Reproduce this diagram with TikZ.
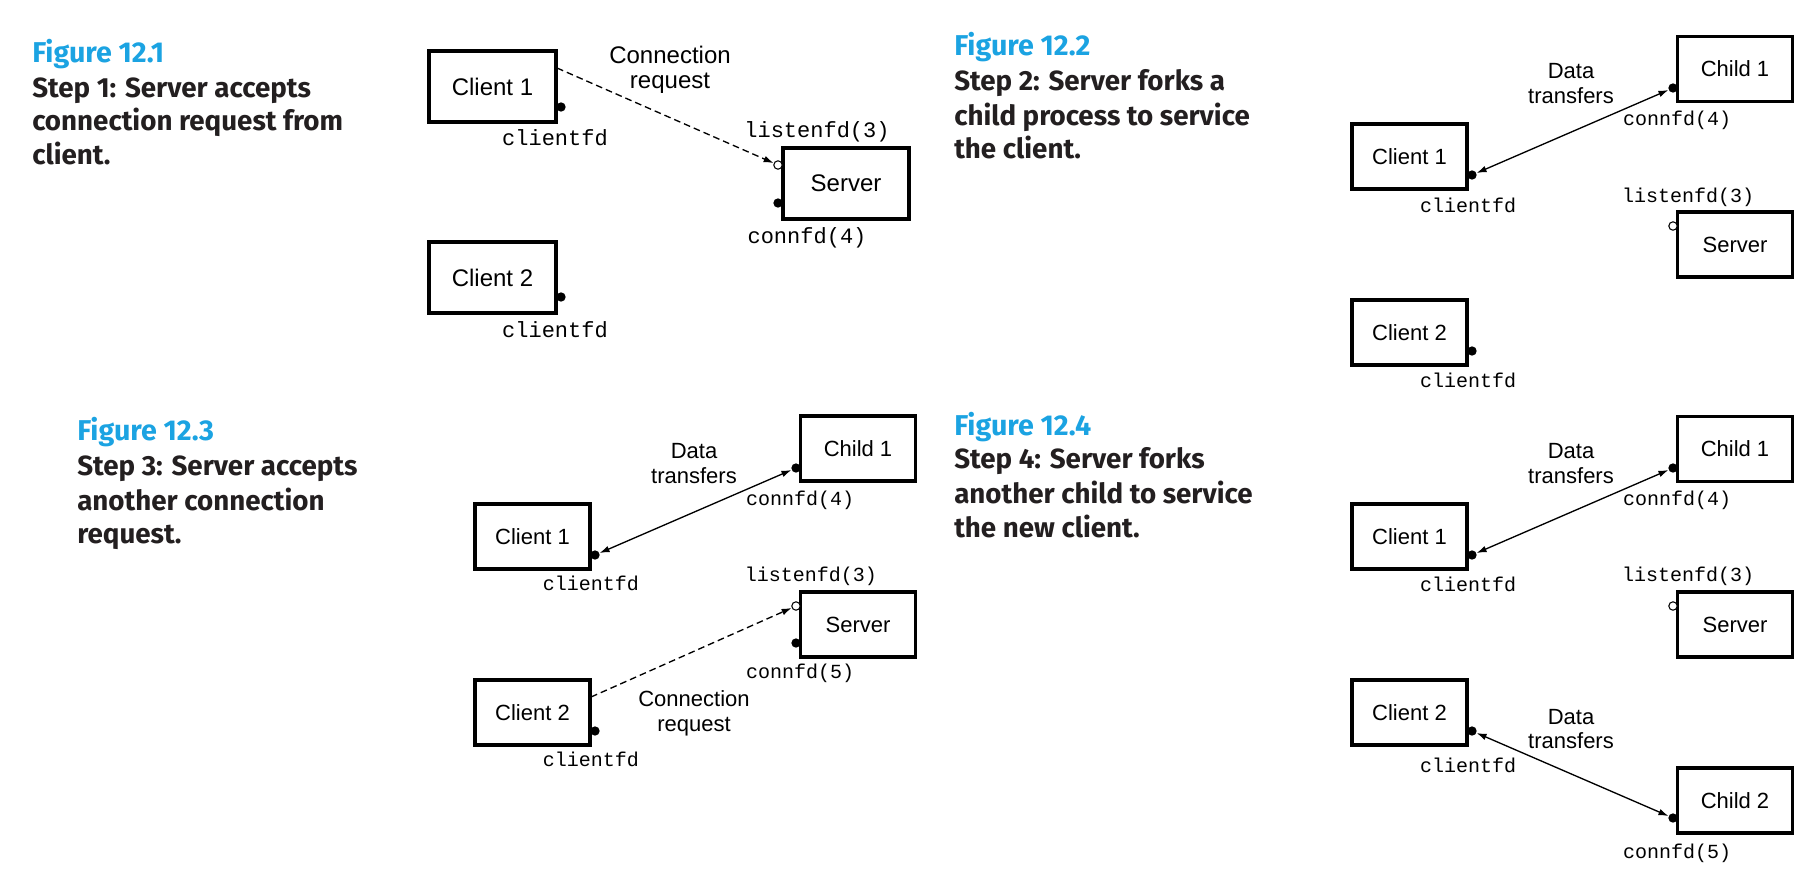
\documentclass[tikz,border=0pt]{standalone}
\usepackage{fontspec}
\setmainfont{Liberation Sans}
\setmonofont{Liberation Mono}
\newfontfamily\titlefont{Fira Sans}
\usetikzlibrary{arrows.meta,calc}
\definecolor{figblue}{RGB}{27,163,226}
\definecolor{ink}{RGB}{35,31,32}
\tikzset{
 box/.style={draw, line width=2.4pt, inner sep=0pt, font=\fontsize{16.5}{18}\selectfont},
 bigbox/.style={box, minimum width=127*0.75pt, minimum height=71*0.75pt, font=\fontsize{18}{20}\selectfont},
 smallbox/.style={box, minimum width=115*0.75pt, minimum height=65*0.75pt},
 fd/.style={circle, fill=black, inner sep=0pt, minimum size=7pt},
 lfd/.style={circle, draw, fill=white, line width=0.8pt, inner sep=0pt, minimum size=6.3pt},
 fdlabel/.style={font=\ttfamily\fontsize{15}{16}\selectfont, anchor=base, inner sep=0pt},
 bigfdlabel/.style={fdlabel, font=\ttfamily\fontsize{16.5}{18}\selectfont},
 lbl/.style={font=\fontsize{16.5}{18}\selectfont, anchor=base, inner sep=0pt},
 biglbl/.style={lbl, font=\fontsize{18}{20}\selectfont},
 figlbl/.style={font=\titlefont\bfseries\fontsize{21.5}{24}\selectfont, text=figblue, anchor=base west, inner sep=0pt},
 steplbl/.style={figlbl, font=\titlefont\bfseries\fontsize{20.8}{24}\selectfont, text=ink},
 link/.style={line width=1pt, {Latex[length=7.5pt,width=5pt]}-{Latex[length=7.5pt,width=5pt]}},
 request/.style={line width=1pt, dash pattern=on 5pt off 3pt, -{Latex[length=7.5pt,width=5pt]}},
}
\begin{document}
\begin{tikzpicture}[x=0.75pt,y=-0.75pt]
\useasboundingbox[fill=white] (0,0) rectangle (1820,882);

% ---------------- Figure 12.1 ----------------
\node[figlbl] (f1) at (32,62) {Figure 12.1};
\node[steplbl] (f1a) at (32,97) {Step 1: Server accepts};
\node[steplbl] (f1b) at (32,130) {connection request from};
\node[steplbl] (f1c) at (32,164) {client.};

\node[bigbox] (c1a) at (492.5,86.5) {Client 1};
\node[bigbox] (c2a) at (492.5,277.5) {Client 2};
\node[bigbox, minimum width=126*0.75pt] (sa) at (846,183.5) {Server};
\node[fd] (c1afd) at (561,107) {};
\node[fd] (c2afd) at (561,297) {};
\node[lfd] (salfd) at (778,165) {};
\node[fd] (sacfd) at (778,203) {};
\node[bigfdlabel] (c1afdl) at (555,145) {clientfd};
\node[bigfdlabel] (c2afdl) at (555,337) {clientfd};
\node[bigfdlabel] (salab) at (817,137) {listenfd(3)};
\node[bigfdlabel] (sacab) at (807,243) {connfd(4)};
\node[biglbl] (reqa1) at (670,63) {Connection};
\node[biglbl] (reqa2) at (670,88) {request};
\coordinate (c1areq) at (557,68);
\draw[request] (c1areq) -- (salfd);

% ---------------- Figure 12.2 ----------------
\node[figlbl] (f2) at (954,55) {Figure 12.2};
\node[steplbl] (f2a) at (954,90) {Step 2: Server forks a};
\node[steplbl] (f2b) at (954,125) {child process to service};
\node[steplbl] (f2c) at (954,158) {the client.};

\node[smallbox] (ch1b) at (1735,69) {Child 1};
\node[smallbox] (c1b) at (1409.5,156.5) {Client 1};
\node[smallbox] (sb) at (1735,244.5) {Server};
\node[smallbox] (c2b) at (1409.5,332.5) {Client 2};
\node[fd] (ch1bfd) at (1673,88) {};
\node[fd] (c1bfd) at (1472,175) {};
\node[lfd] (sblfd) at (1673,226) {};
\node[fd] (c2bfd) at (1472,351) {};
\node[lbl] (db1) at (1571,78) {Data};
\node[lbl] (db2) at (1571,103) {transfers};
\node[fdlabel] (ch1bl) at (1677,125) {connfd(4)};
\node[fdlabel] (c1bl) at (1468,212) {clientfd};
\node[fdlabel] (sbl) at (1688,202) {listenfd(3)};
\node[fdlabel] (c2bl) at (1468,387) {clientfd};
\draw[link] (c1bfd) -- (ch1bfd);

% ---------------- Figure 12.3 ----------------
\node[figlbl] (f3) at (77,440) {Figure 12.3};
\node[steplbl] (f3a) at (77,475) {Step 3: Server accepts};
\node[steplbl] (f3b) at (77,510) {another connection};
\node[steplbl] (f3c) at (77,543) {request.};

\node[smallbox] (ch1c) at (858,448.5) {Child 1};
\node[smallbox] (c1c) at (532.5,536.5) {Client 1};
\node[smallbox] (sc) at (858,624.5) {Server};
\node[smallbox] (c2c) at (532.5,712.5) {Client 2};
\node[fd] (ch1cfd) at (796,468) {};
\node[fd] (c1cfd) at (595,555) {};
\node[lfd] (sclfd) at (796,606) {};
\node[fd] (sccfd) at (796,643) {};
\node[fd] (c2cfd) at (595,731) {};
\node[lbl] (dc1) at (694,458) {Data};
\node[lbl] (dc2) at (694,483) {transfers};
\node[fdlabel] (ch1cl) at (800,505) {connfd(4)};
\node[fdlabel] (c1cl) at (591,590) {clientfd};
\node[fdlabel] (scl) at (811,581) {listenfd(3)};
\node[fdlabel] (sccl) at (800,678) {connfd(5)};
\node[lbl] (rc1) at (694,706) {Connection};
\node[lbl] (rc2) at (694,731) {request};
\node[fdlabel] (c2cl) at (591,766) {clientfd};
\coordinate (c2creq) at (591,697);
\draw[link] (c1cfd) -- (ch1cfd);
\draw[request] (c2creq) -- (sclfd);

% ---------------- Figure 12.4 ----------------
\node[figlbl] (f4) at (954,435) {Figure 12.4};
\node[steplbl] (f4a) at (954,468) {Step 4: Server forks};
\node[steplbl] (f4b) at (954,503) {another child to service};
\node[steplbl] (f4c) at (954,537) {the new client.};

\node[smallbox] (ch1d) at (1735,449) {Child 1};
\node[smallbox] (c1d) at (1409.5,536.5) {Client 1};
\node[smallbox] (sd) at (1735,624.5) {Server};
\node[smallbox] (c2d) at (1409.5,712.5) {Client 2};
\node[smallbox] (ch2d) at (1735,800.5) {Child 2};
\node[fd] (ch1dfd) at (1673,468) {};
\node[fd] (c1dfd) at (1472,555) {};
\node[lfd] (sdlfd) at (1673,606) {};
\node[fd] (c2dfd) at (1472,731) {};
\node[fd] (ch2dfd) at (1673,818) {};
\node[lbl] (dd1) at (1571,458) {Data};
\node[lbl] (dd2) at (1571,483) {transfers};
\node[fdlabel] (ch1dl) at (1677,505) {connfd(4)};
\node[fdlabel] (c1dl) at (1468,591) {clientfd};
\node[fdlabel] (sdl) at (1688,581) {listenfd(3)};
\node[lbl] (de1) at (1571,724) {Data};
\node[lbl] (de2) at (1571,748) {transfers};
\node[fdlabel] (c2dl) at (1468,772) {clientfd};
\node[fdlabel] (ch2dl) at (1677,858) {connfd(5)};
\draw[link] (c1dfd) -- (ch1dfd);
\draw[link] (c2dfd) -- (ch2dfd);
\end{tikzpicture}
\end{document}
